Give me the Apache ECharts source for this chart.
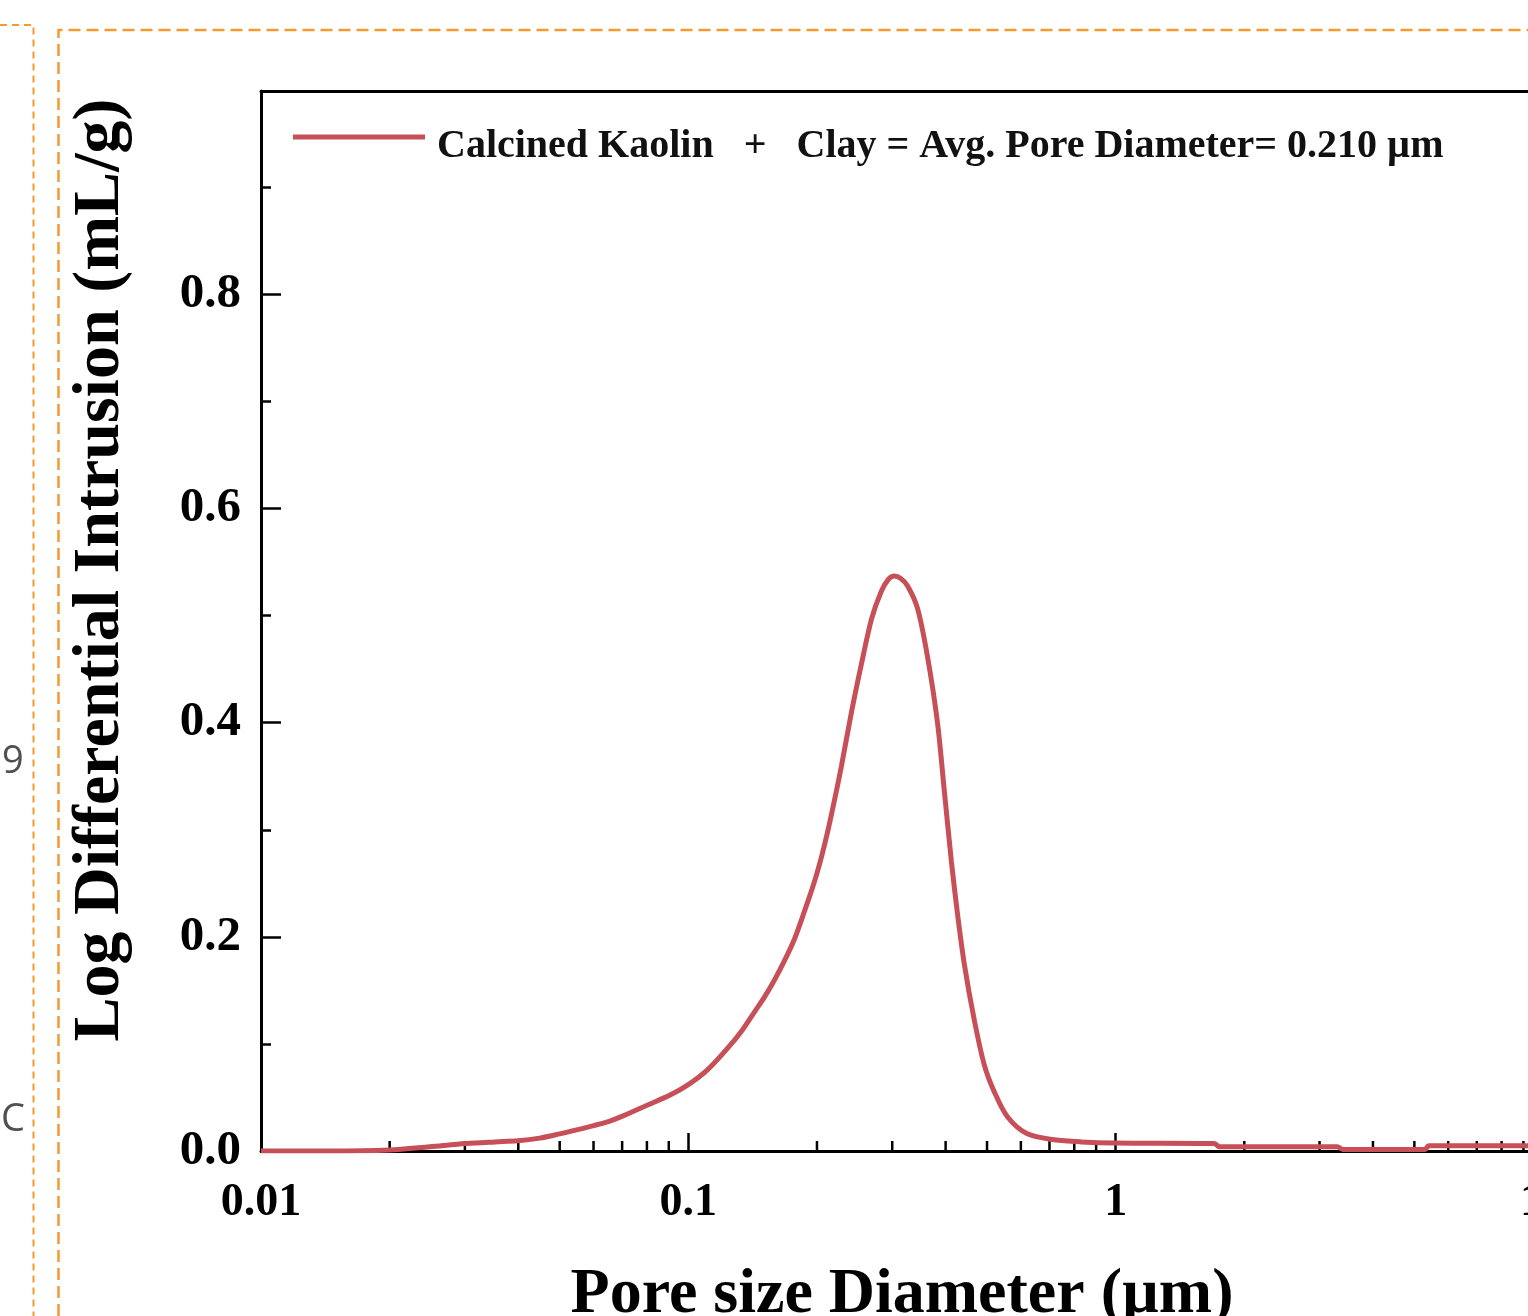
<!DOCTYPE html>
<html>
<head>
<meta charset="utf-8">
<title>Pore size distribution</title>
<script src="https://cdn.jsdelivr.net/npm/echarts@6/dist/echarts.min.js"></script>
<style>
  html, body { margin: 0; padding: 0; background: #ffffff; overflow: hidden; }
  #chart { width: 1528px; height: 1316px; }
</style>
</head>
<body>
<div id="chart"></div>
<script>
// ---- Data ----
const seriesName = 'Calcined Kaolin   +   Clay = Avg. Pore Diameter= 0.210 µm';
const poreDiameter = [0.01, 0.0145, 0.02, 0.0248, 0.0302, 0.0353, 0.0399, 0.0449, 0.05, 0.0551, 0.0604, 0.0655, 0.0706, 0.0803, 0.0904, 0.1, 0.111, 0.1236, 0.1333, 0.1429, 0.1508, 0.1592, 0.168, 0.1772, 0.187, 0.1974, 0.205, 0.2118, 0.2199, 0.2283, 0.2409, 0.2542, 0.2684, 0.2831, 0.294, 0.3036, 0.3136, 0.3257, 0.3437, 0.3627, 0.3829, 0.3975, 0.4128, 0.4263, 0.4426, 0.467, 0.493, 0.5203, 0.558, 0.6213, 0.7185, 0.831, 1.0, 1.7, 1.75, 3.3, 3.4, 5.3, 5.4, 10];
const logDiffIntrusion = [0, 0, 0.001, 0.004, 0.007, 0.0085, 0.0095, 0.012, 0.016, 0.02, 0.024, 0.028, 0.033, 0.043, 0.052, 0.062, 0.076, 0.096, 0.112, 0.13, 0.144, 0.16, 0.178, 0.198, 0.224, 0.252, 0.275, 0.298, 0.328, 0.36, 0.41, 0.455, 0.497, 0.523, 0.534, 0.537, 0.535, 0.528, 0.507, 0.462, 0.40, 0.335, 0.27, 0.222, 0.174, 0.122, 0.08, 0.055, 0.032, 0.016, 0.0105, 0.0085, 0.0075, 0.007, 0.004, 0.004, 0.0015, 0.0015, 0.005, 0.005];
const xMinorTicks = [0.02, 0.03, 0.04, 0.05, 0.06, 0.07, 0.08, 0.09, 0.2, 0.3, 0.4, 0.5, 0.6, 0.7, 0.8, 0.9, 2, 3, 4, 5, 6, 7, 8, 9];
const xTitle = 'Pore size Diameter (µm)';
const yTitle = 'Log Differential Intrusion (mL/g)';
const strayTexts = ['9', 'C'];

// ---- Chart ----
const lineColor = '#c64f58';
const serif = '"Liberation Serif", "Times New Roman", serif';
const orange = '#f59a2f';

const chart = echarts.init(document.getElementById('chart'));
const lineData = poreDiameter.map((x, i) => [x, logDiffIntrusion[i]]);

chart.setOption({
  animation: false,
  backgroundColor: '#ffffff',
  grid: { left: 261, top: 91, width: 1282, height: 1060, containLabel: false, outerBoundsMode: 'none' },
  legend: {
    data: [seriesName],
    left: 293, top: 127,
    padding: 0,
    itemWidth: 132, itemHeight: 25,
    icon: 'path://M0,0H132V5H0Z M0,24.95H0.05V25H0Z',
    selectedMode: false,
    textStyle: { fontFamily: serif, fontWeight: 'bold', fontSize: 40, color: '#111', padding: [0, 0, 0, 7] }
  },
  xAxis: [{
    type: 'log', logBase: 10, min: 0.01, max: 10,
    position: 'bottom',
    name: xTitle, nameLocation: 'middle', nameGap: 112,
    nameTextStyle: { fontFamily: serif, fontWeight: 'bold', fontSize: 64, color: '#000' },
    axisLine: { show: true, onZero: false, lineStyle: { color: '#000', width: 3 } },
    axisTick: { show: true, inside: true, length: 18, lineStyle: { color: '#000', width: 2.5 } },
    axisLabel: { fontFamily: serif, fontWeight: 'bold', fontSize: 46, color: '#000', margin: 29,
      formatter: v => String(+v.toPrecision(3)) },
    splitLine: { show: false }, minorTick: { show: false }
  }, {
    type: 'log', logBase: 10, min: 0.01, max: 10,
    position: 'top',
    axisLine: { show: true, onZero: false, lineStyle: { color: '#000', width: 3 } },
    axisTick: { show: false }, axisLabel: { show: false }, splitLine: { show: false }
  }],
  yAxis: [{
    type: 'value', min: 0, max: 0.99, interval: 0.2,
    position: 'left',
    axisLine: { show: true, onZero: false, lineStyle: { color: '#000', width: 3 } },
    axisTick: { show: true, inside: true, length: 20, lineStyle: { color: '#000', width: 2.5 } },
    axisLabel: { fontFamily: serif, fontWeight: 'bold', fontSize: 49, color: '#000', margin: 20,
      showMaxLabel: false, formatter: v => v.toFixed(1) },
    splitLine: { show: false }
  }, {
    type: 'value', min: 0, max: 0.99, interval: 0.1,
    position: 'left',
    axisLine: { show: false },
    axisTick: { show: true, inside: true, length: 10, lineStyle: { color: '#000', width: 2.5 } },
    axisLabel: { show: false }, splitLine: { show: false }
  }, {
    type: 'value', min: 0, max: 0.99,
    position: 'right',
    axisLine: { show: true, onZero: false, lineStyle: { color: '#000', width: 3 } },
    axisTick: { show: false }, axisLabel: { show: false }, splitLine: { show: false }
  }],
  series: [{
    type: 'custom',
    name: 'minorTicks',
    silent: true,
    z: 1,
    xAxisIndex: 0, yAxisIndex: 0,
    data: xMinorTicks.map(v => [v, 0]),
    renderItem: (params, api) => {
      const p = api.coord([api.value(0), 0]);
      return { type: 'line', shape: { x1: p[0], y1: p[1], x2: p[0], y2: p[1] - 10 },
        style: { stroke: '#000', lineWidth: 2.5 } };
    }
  }, {
    type: 'line',
    name: seriesName,
    xAxisIndex: 0, yAxisIndex: 0,
    data: lineData,
    smooth: 0.3,
    showSymbol: false,
    z: 3,
    color: lineColor,
    lineStyle: { color: lineColor, width: 5 }
  }],
  graphic: [
    { type: 'text', x: 101, y: 570, rotation: Math.PI / 2,
      style: { text: yTitle, fontFamily: serif, fontWeight: 'bold', fontSize: 66, fill: '#000',
        align: 'center', verticalAlign: 'middle' } },
    { type: 'polyline', silent: true,
      shape: { points: [[0, 25], [33.5, 25], [33.5, 1316]] },
      style: { stroke: orange, lineWidth: 2, lineDash: [7, 5], fill: null } },
    { type: 'polyline', silent: true,
      shape: { points: [[58.5, 1316], [58.5, 30], [1528, 30]] },
      style: { stroke: orange, lineWidth: 2.5, lineDash: [12, 6], fill: null } },
    { type: 'text', x: 2, y: 762,
      style: { text: strayTexts[0], fontFamily: '"Open Sans", sans-serif', fontSize: 38, fill: '#505050',
        align: 'left', verticalAlign: 'middle' } },
    { type: 'text', x: 1, y: 1120,
      style: { text: strayTexts[1], fontFamily: '"Open Sans", sans-serif', fontSize: 38, fill: '#505050',
        align: 'left', verticalAlign: 'middle' } }
  ]
});
</script>
</body>
</html>
